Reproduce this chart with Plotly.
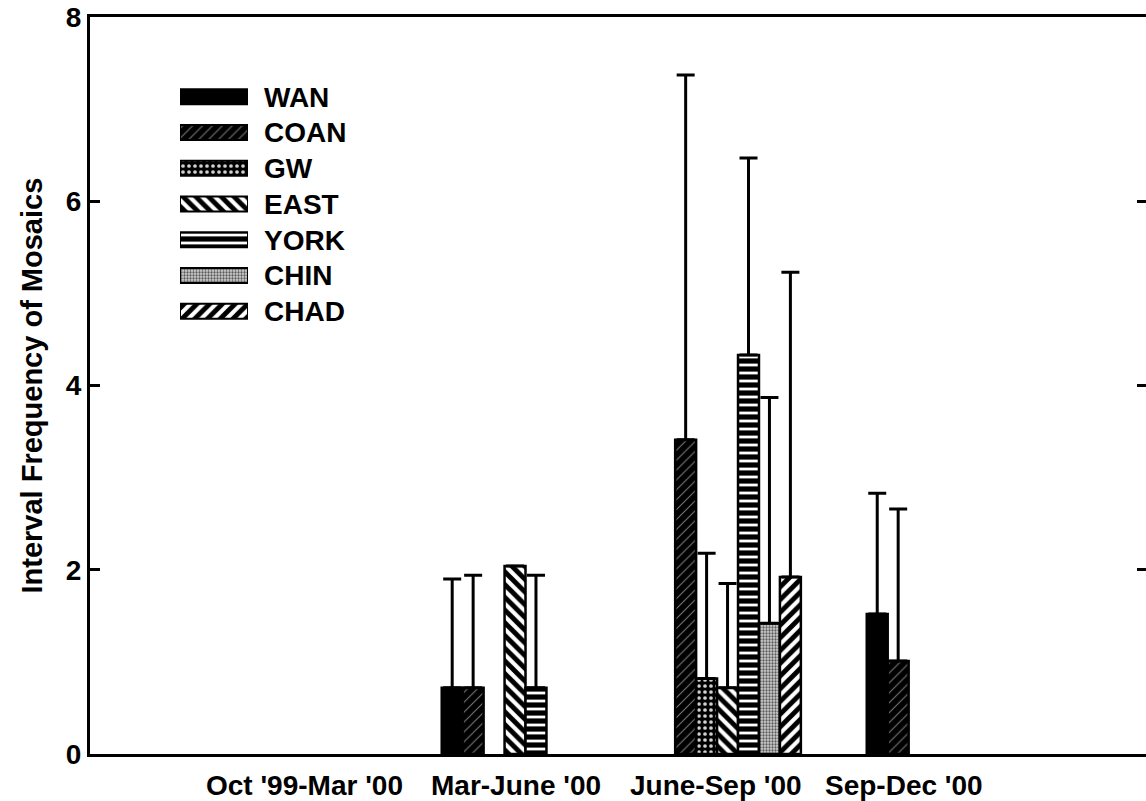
import plotly.graph_objects as go

# ---- data ----
periods = ["Oct '99-Mar '00", "Mar-June '00", "June-Sep '00", "Sep-Dec '00"]
series = ["WAN", "COAN", "GW", "EAST", "YORK", "CHIN", "CHAD"]

wan = [0, 0.72, 0, 1.52]
coan = [0, 0.72, 3.41, 1.01]
gw = [0, 0, 0.82, 0]
east = [0, 2.04, 0.72, 0]
york = [0, 0.72, 4.33, 0]
chin = [0, 0, 1.42, 0]
chad = [0, 0, 1.92, 0]

wan_err = [0, 1.18, 0, 1.31]
coan_err = [0, 1.22, 3.96, 1.65]
gw_err = [0, 0, 1.36, 0]
east_err = [0, 0, 1.13, 0]
york_err = [0, 1.22, 2.14, 0]
chin_err = [0, 0, 2.45, 0]
chad_err = [0, 0, 3.31, 0]

y_ticks = [0, 2, 4, 6, 8]
y_title = "Interval Frequency of Mosaics"

values = [wan, coan, gw, east, york, chin, chad]
errors = [wan_err, coan_err, gw_err, east_err, york_err, chin_err, chad_err]

# ---- styles ----
styles = [
    dict(shape="", bg="black", fg="black", size=8, sol=0.3),
    dict(shape="/", bg="black", fg="#7a7a7a", size=7, sol=0.15),
    dict(shape=".", bg="black", fg="#d0d0d0", size=6, sol=0.3),
    dict(shape="\\", bg="white", fg="black", size=9, sol=0.55),
    dict(shape="-", bg="black", fg="white", size=8, sol=0.35),
    dict(shape=".", bg="#cfcfcf", fg="#5a5a5a", size=3, sol=0.45),
    dict(shape="/", bg="white", fg="black", size=9, sol=0.55),
]
label_shift = [2, 1, -12, -36]
FONT = "Liberation Sans, Arial, Helvetica, sans-serif"


def pattern(st):
    return dict(shape=st["shape"], bgcolor=st["bg"], fgcolor=st["fg"],
                size=st["size"], solidity=st["sol"], fillmode="replace")


fig = go.Figure()
for name, vals, errs, st in zip(series, values, errors, styles):
    shown = [v if v else None for v in vals]
    fig.add_trace(go.Bar(
        x=periods, y=shown, name=name, showlegend=False,
        marker=dict(color=st["bg"], line=dict(color="black", width=2.5), pattern=pattern(st)),
        error_y=dict(type="data", symmetric=False, array=errs, arrayminus=[0] * len(errs),
                     color="black", thickness=3, width=9),
        xaxis="x", yaxis="y",
    ))

# legend swatches as a small horizontal bar subplot (one trace per series, same slot)
for name, st in zip(series, styles):
    fig.add_trace(go.Bar(
        y=[name], x=[1], orientation="h", width=0.42, offsetgroup="legend", showlegend=False,
        marker=dict(color=st["bg"], line=dict(color="black", width=2), pattern=pattern(st)),
        xaxis="x2", yaxis="y2", hoverinfo="skip",
    ))

W, H = 1146, 801
L, R, T, B = 90, 0, 17, 47
pw, ph = W - L - R, H - T - B


def px_x(p):
    return (p - L) / pw


def px_y(p):
    return (H - B - p) / ph


fig.update_layout(
    width=W, height=H,
    margin=dict(l=L, r=R, t=T, b=B),
    paper_bgcolor="white", plot_bgcolor="white",
    barmode="group", bargap=0.31, bargroupgap=0,
    font=dict(family=FONT, size=28, color="black", weight="bold"),
    xaxis=dict(type="category", categoryorder="array", categoryarray=periods,
               range=[-1.0, 3.969], showline=True, linecolor="black", linewidth=3,
               mirror=True, ticks="", showticklabels=False, showgrid=False, zeroline=False),
    yaxis=dict(range=[0, 8], tickvals=y_ticks, showline=True, linecolor="black", linewidth=3,
               ticks="inside", ticklen=10, tickwidth=2.5, tickcolor="black",
               showgrid=False, zeroline=False,
               tickfont=dict(family=FONT, size=28, weight="bold")),
    yaxis3=dict(range=[0, 8], tickvals=y_ticks, overlaying="y", side="right",
                ticks="inside", ticklen=9, tickwidth=2.5, tickcolor="black",
                showticklabels=False, showline=False, showgrid=False, zeroline=False),
    xaxis2=dict(domain=[px_x(180), px_x(248)], range=[0, 1], anchor="y2", visible=False),
    yaxis2=dict(domain=[px_y(329), px_y(79)], type="category", categoryorder="array",
                categoryarray=series, range=[6.5, -0.5], anchor="x2", side="right",
                showline=False, ticks="", showgrid=False, zeroline=False,
                ticklabelstandoff=15,
                tickfont=dict(family=FONT, size=28, weight="bold")),
)

# invisible trace to activate yaxis3
fig.add_trace(go.Scatter(x=[periods[0]], y=[0], yaxis="y3", xaxis="x",
                         mode="markers", marker=dict(opacity=0), showlegend=False, hoverinfo="skip"))

for p, s in zip(periods, label_shift):
    fig.add_annotation(x=p, y=0, xref="x", yref="paper", text=p, showarrow=False,
                       xanchor="center", yanchor="top", xshift=s, yshift=-14,
                       font=dict(family=FONT, size=28, weight="bold"))

fig.add_annotation(x=0, y=0.5, xref="paper", yref="paper", text=y_title, textangle=-90,
                   showarrow=False, xanchor="center", yanchor="middle", xshift=-59,
                   font=dict(family=FONT, size=29, weight="bold"))

fig.write_html("out.html")
